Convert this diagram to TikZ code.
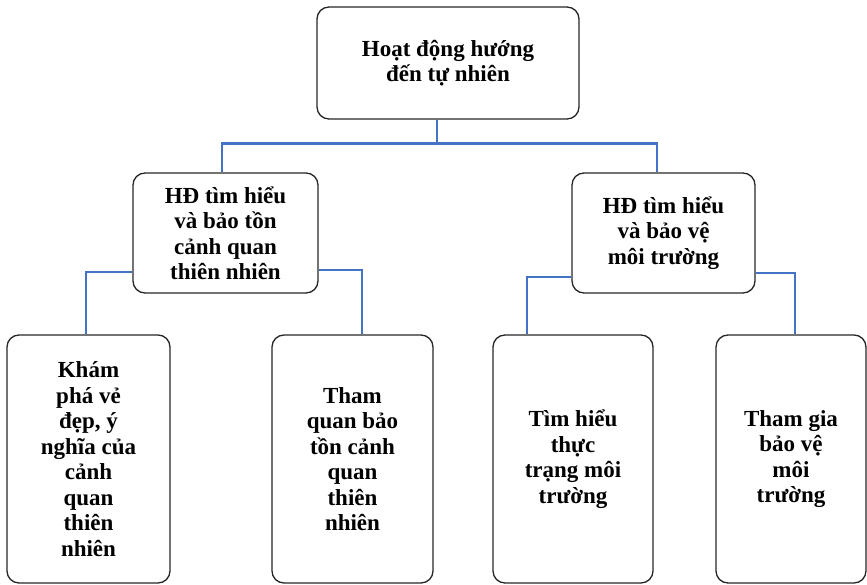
\documentclass[tikz,border=0pt]{standalone}
\usepackage{fontspec}
\setmainfont{Liberation Serif}
\usepackage[dvipsnames]{xcolor}
\usepackage{tikz}
\definecolor{linienblau}{HTML}{4472C4}
\tikzset{
    kasten/.style={draw=black!85, line width=1.3pt, rounded corners=12pt, align=center, inner sep=2pt,
        font=\bfseries\fontsize{23}{25.5}\selectfont},
    verbindung/.style={draw=linienblau, line width=2.6pt}
}

\begin{document}
\begin{tikzpicture}[x=1pt, y=-1pt]
    \useasboundingbox (0,0) rectangle (867,585);

    % Kästen.
    \node[kasten, minimum width=262, minimum height=112] (top) at (448,63) {Hoạt động hướng\\đến tự nhiên};

    \node[kasten, minimum width=185, minimum height=120] (ml) at (225.5,233) {HĐ tìm hiểu\\và bảo tồn\\cảnh quan\\thiên nhiên};
    \node[kasten, minimum width=183, minimum height=120] (mr) at (663.5,233) {HĐ tìm hiểu\\và bảo vệ\\môi trường};

    \node[kasten, minimum width=163, minimum height=248] (b1) at (88.5,459) {Khám\\phá vẻ\\đẹp, ý\\nghĩa của\\cảnh\\quan\\thiên\\nhiên};
    \node[kasten, minimum width=161, minimum height=248] (b2) at (352.5,459) {Tham\\quan bảo\\tồn cảnh\\quan\\thiên\\nhiên};
    \node[kasten, minimum width=160, minimum height=248] (b3) at (573,459) {Tìm hiểu\\thực\\trạng môi\\trường};
    \node[kasten, minimum width=150, minimum height=248] (b4) at (791,459) {Tham gia\\bảo vệ\\môi\\trường};

    % Verbindungen.
    \draw[verbindung] ([xshift=-11pt]top.south) -- ++(0,24) -| ([xshift=-3.5pt]ml.north);
    \draw[verbindung] ([xshift=-11pt]top.south) -- ++(0,24) -| ([xshift=-6.5pt]mr.north);

    \draw[verbindung] ([yshift=-39pt]ml.west) -| ([xshift=-2.5pt]b1.north);
    \draw[verbindung] ([yshift=-37pt]ml.east) -| ([xshift=9.5pt]b2.north);

    \draw[verbindung] ([yshift=-44pt]mr.west) -| ([xshift=-46pt]b3.north);
    \draw[verbindung] ([yshift=-40pt]mr.east) -| ([xshift=4pt]b4.north);
\end{tikzpicture}
\end{document}
